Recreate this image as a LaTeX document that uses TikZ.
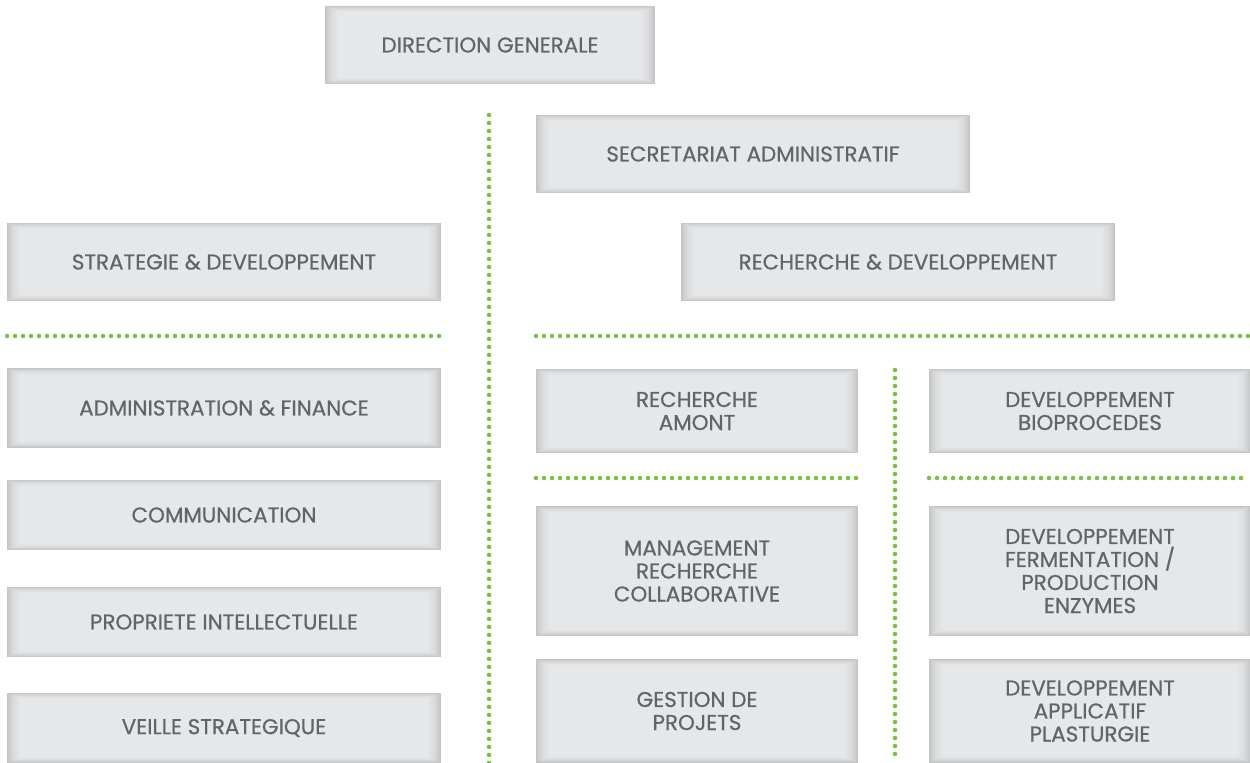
\documentclass[tikz,border=0pt]{standalone}
\usepackage{fontspec}
\setmainfont{Poppins}
\usepackage{tikz}
\usetikzlibrary{positioning}
\definecolor{boxfill}{HTML}{E6E7E8}
\definecolor{boxedge}{HTML}{C3C4C6}
\definecolor{label}{HTML}{636466}
\definecolor{leaf}{HTML}{7AC143}

\begin{document}
\begin{tikzpicture}[x=0.02cm,y=-0.02cm,
  font=\fontsize{12.2}{13.1}\selectfont\addfontfeatures{FakeBold=0.6},
  unit/.style={fill=boxedge,text=label,align=center,inner sep=0pt,outer sep=0pt,
    minimum width=8.68cm,minimum height=1.58cm,
    path picture={
      \foreach \k/\c in {1/88,2/76,3/65,4/55,5/46,6/38,7/30,8/23,9/16,10/10,11/5,12/0}{
        \fill[boxedge!\c!boxfill]
          ([shift={(\k*0.6pt,\k*0.3pt)}]path picture bounding box.south west) rectangle
          ([shift={(-\k*0.6pt,-\k*0.3pt)}]path picture bounding box.north east);}}},
  half/.style={unit,minimum width=6.44cm},
  sep/.style={draw=leaf,line width=2.6pt,line cap=round,dash pattern=on 0pt off 0.16cm}]
\useasboundingbox (0,0) rectangle (1250,763);
% top of the tree
\node[unit,minimum width=6.6cm] (dg) at (490,45) {DIRECTION GENERALE};
\node[unit] (sec) at (753,154) {SECRETARIAT ADMINISTRATIF};
\node[unit] (strat) at (224,262) {STRATEGIE \& DEVELOPPEMENT};
\node[unit] (rd) at (898,262) {RECHERCHE \& DEVELOPPEMENT};
% support services
\node[unit,minimum height=1.6cm] (admin) at (224,408) {ADMINISTRATION \& FINANCE};
\node[unit,minimum height=1.42cm] (com) at (224,515) {COMMUNICATION};
\node[unit,minimum height=1.42cm] (pi) at (224,622) {PROPRIETE INTELLECTUELLE};
\node[unit,minimum height=1.42cm] (veille) at (224,728) {VEILLE STRATEGIQUE};
% research side
\node[half,minimum height=1.7cm] (amont) at (697,411) {RECHERCHE\\AMONT};
\node[half,minimum height=1.7cm] (bio) at (1090,411) {DEVELOPPEMENT\\BIOPROCEDES};
\node[half,minimum height=2.6cm] (mgt) at (697,571) {MANAGEMENT\\RECHERCHE\\COLLABORATIVE};
\node[half,minimum height=2.6cm] (ferm) at (1090,571) {DEVELOPPEMENT\\FERMENTATION /\\PRODUCTION\\ENZYMES};
\node[half,minimum height=2.08cm] (proj) at (697,711) {GESTION DE\\PROJETS};
\node[half,minimum height=2.08cm] (plast) at (1090,711) {DEVELOPPEMENT\\APPLICATIF\\PLASTURGIE};
% dotted separators
\coordinate (axis top) at (489,115);
\coordinate (axis bot) at (489,763);
\coordinate (rd axis top) at (895,370);
\coordinate (rd axis bot) at (895,760);
\draw[sep] (axis top) -- (axis bot);
\draw[sep] (rd axis top) -- (rd axis bot);
\draw[sep] (strat.west |- 0,336) -- (strat.east |- 0,336);
\draw[sep] (amont.west |- 0,336) -- (1248,336);
\draw[sep] (amont.west |- 0,478) -- (amont.east |- 0,478);
\draw[sep] (bio.west |- 0,478) -- (1248,478);
\end{tikzpicture}
\end{document}
